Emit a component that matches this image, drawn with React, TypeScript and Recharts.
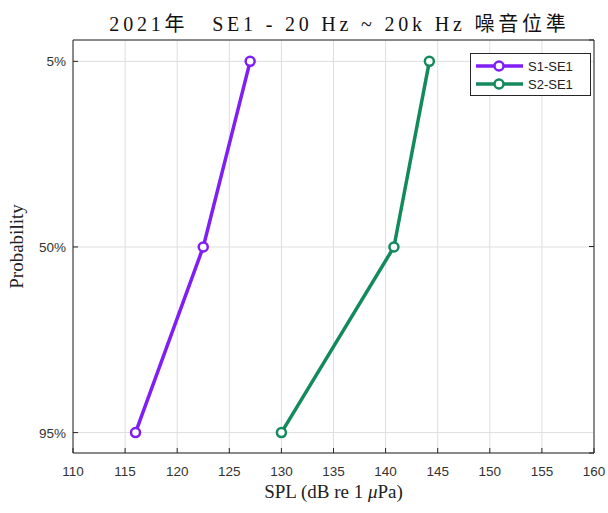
import React from "react";
import {
  CartesianGrid,
  Label,
  Legend,
  Line,
  LineChart,
  XAxis,
  YAxis,
} from "recharts";

const probabilityLabels = ["5%", "50%", "95%"];
const s1Values = [127, 122.5, 116];
const s2Values = [144.2, 140.8, 130];
const splTicks = [110, 115, 120, 125, 130, 135, 140, 145, 150, 155, 160];
const probTicks = [0, 1, 2];

const S1_COLOR = "#7f1ff5";
const S2_COLOR = "#138a5c";
const AXIS_COLOR = "#262626";
const TICK_FONT = "'Liberation Sans', Arial, sans-serif";
const SERIF_FONT = "'Liberation Serif', 'Times New Roman', serif";

const rows = probabilityLabels.map((label, i) => ({
  p: i,
  label,
  s1: s1Values[i],
  s2: s2Values[i],
}));

const BottomTick = (props: any) => {
  const { x, y, payload } = props;
  return (
    <g>
      <line x1={x} x2={x} y1={y} y2={y - 5} stroke={AXIS_COLOR} />
      <text
        x={x}
        y={y + 23}
        textAnchor="middle"
        fontFamily={TICK_FONT}
        fontSize={13.5}
        fill="#333"
      >
        {payload.value}
      </text>
    </g>
  );
};

const TopTick = (props: any) => {
  const { x, y } = props;
  return <line x1={x} x2={x} y1={y} y2={y + 5} stroke={AXIS_COLOR} />;
};

const LeftTick = (props: any) => {
  const { x, y, payload } = props;
  return (
    <g>
      <line x1={x} x2={x + 5} y1={y} y2={y} stroke={AXIS_COLOR} />
      <text
        x={x - 7}
        y={y + 5}
        textAnchor="end"
        fontFamily={TICK_FONT}
        fontSize={13.5}
        fill="#333"
      >
        {probabilityLabels[payload.value]}
      </text>
    </g>
  );
};

const RightTick = (props: any) => {
  const { x, y } = props;
  return <line x1={x} x2={x - 5} y1={y} y2={y} stroke={AXIS_COLOR} />;
};

const renderLegend = (props: any) => {
  const items = props.payload ?? [];
  return (
    <div
      style={{
        background: "#fff",
        border: `1px solid ${AXIS_COLOR}`,
        boxSizing: "border-box",
        width: 121,
        height: 43,
        padding: "3px 0 0 4px",
      }}
    >
      {items.map((item: any) => (
        <div
          key={item.value}
          style={{ display: "flex", alignItems: "center", height: 18 }}
        >
          <svg width={52} height={18}>
            <line x1={1} x2={48} y1={9} y2={9} stroke={item.color} strokeWidth={3.5} />
            <circle cx={24} cy={9} r={4.5} fill="#fff" stroke={item.color} strokeWidth={2.5} />
          </svg>
          <span
            style={{
              fontFamily: TICK_FONT,
              fontSize: 13,
              color: "#222",
              marginLeft: 1,
            }}
          >
            {item.value}
          </span>
        </div>
      ))}
    </div>
  );
};

export default function App() {
  return (
    <div style={{ position: "absolute", left: 0, top: 0, background: "#fff" }}>
      <LineChart
        width={608}
        height={513}
        data={rows}
        layout="vertical"
        margin={{ top: 39, right: 13, bottom: 59, left: 72 }}
      >
        <CartesianGrid stroke="#dedede" strokeWidth={1} />
        <XAxis
          type="number"
          dataKey="s1"
          domain={[110, 160]}
          ticks={splTicks}
          interval={0}
          height={1}
          tickSize={0}
          tickMargin={0}
          tickLine={false}
          axisLine={{ stroke: AXIS_COLOR }}
          tick={<BottomTick />}
        >
          <Label
            content={(p: any) => {
              const vb = p.viewBox;
              return (
                <text
                  x={vb.x + vb.width / 2}
                  y={498}
                  textAnchor="middle"
                  fontFamily={SERIF_FONT}
                  fontSize={19}
                  fill="#222"
                >
                  SPL (dB re 1 <tspan fontStyle="italic">μ</tspan>Pa)
                </text>
              );
            }}
          />
        </XAxis>
        <XAxis
          xAxisId="top"
          orientation="top"
          type="number"
          domain={[110, 160]}
          ticks={splTicks}
          interval={0}
          height={1}
          tickSize={0}
          tickMargin={0}
          tickLine={false}
          axisLine={{ stroke: AXIS_COLOR }}
          tick={<TopTick />}
        >
          <Label
            content={(p: any) => {
              const vb = p.viewBox;
              return (
                <text
                  x={vb.x + vb.width / 2 + 6}
                  y={31}
                  textAnchor="middle"
                  fontFamily={SERIF_FONT + ", 'Noto Sans CJK TC'"}
                  fontSize={20}
                  letterSpacing={3.8}
                  fill="#111"
                >
                  {"2021年　SE1 - 20 Hz ~ 20k Hz 噪音位準"}
                </text>
              );
            }}
          />
        </XAxis>
        <YAxis
          type="number"
          dataKey="p"
          domain={[-0.115, 2.11]}
          ticks={probTicks}
          interval={0}
          width={1}
          tickSize={0}
          tickMargin={0}
          tickLine={false}
          axisLine={{ stroke: AXIS_COLOR }}
          tick={<LeftTick />}
        >
          <Label
            content={(p: any) => {
              const vb = p.viewBox;
              const cy = vb.y + vb.height / 2;
              return (
                <text
                  x={0}
                  y={0}
                  transform={`translate(23, ${cy}) rotate(-90)`}
                  textAnchor="middle"
                  fontFamily={SERIF_FONT}
                  fontSize={19}
                  fill="#222"
                >
                  Probability
                </text>
              );
            }}
          />
        </YAxis>
        <YAxis
          yAxisId="right"
          orientation="right"
          type="number"
          domain={[-0.115, 2.11]}
          ticks={probTicks}
          interval={0}
          width={1}
          tickSize={0}
          tickMargin={0}
          tickLine={false}
          axisLine={{ stroke: AXIS_COLOR }}
          tick={<RightTick />}
        />
        <Legend
          layout="horizontal"
          verticalAlign="middle"
          align="center"
          content={renderLegend}
          wrapperStyle={{ position: "absolute", left: 470, top: 53, width: 121, height: 43 }}
        />
        <Line
          name="S1-SE1"
          dataKey="s1"
          stroke={S1_COLOR}
          strokeWidth={3.5}
          dot={{ r: 4.5, strokeWidth: 2.5, fill: "#fff", stroke: S1_COLOR }}
          isAnimationActive={false}
        />
        <Line
          name="S2-SE1"
          dataKey="s2"
          stroke={S2_COLOR}
          strokeWidth={3.5}
          dot={{ r: 4.5, strokeWidth: 2.5, fill: "#fff", stroke: S2_COLOR }}
          isAnimationActive={false}
        />
      </LineChart>
    </div>
  );
}
